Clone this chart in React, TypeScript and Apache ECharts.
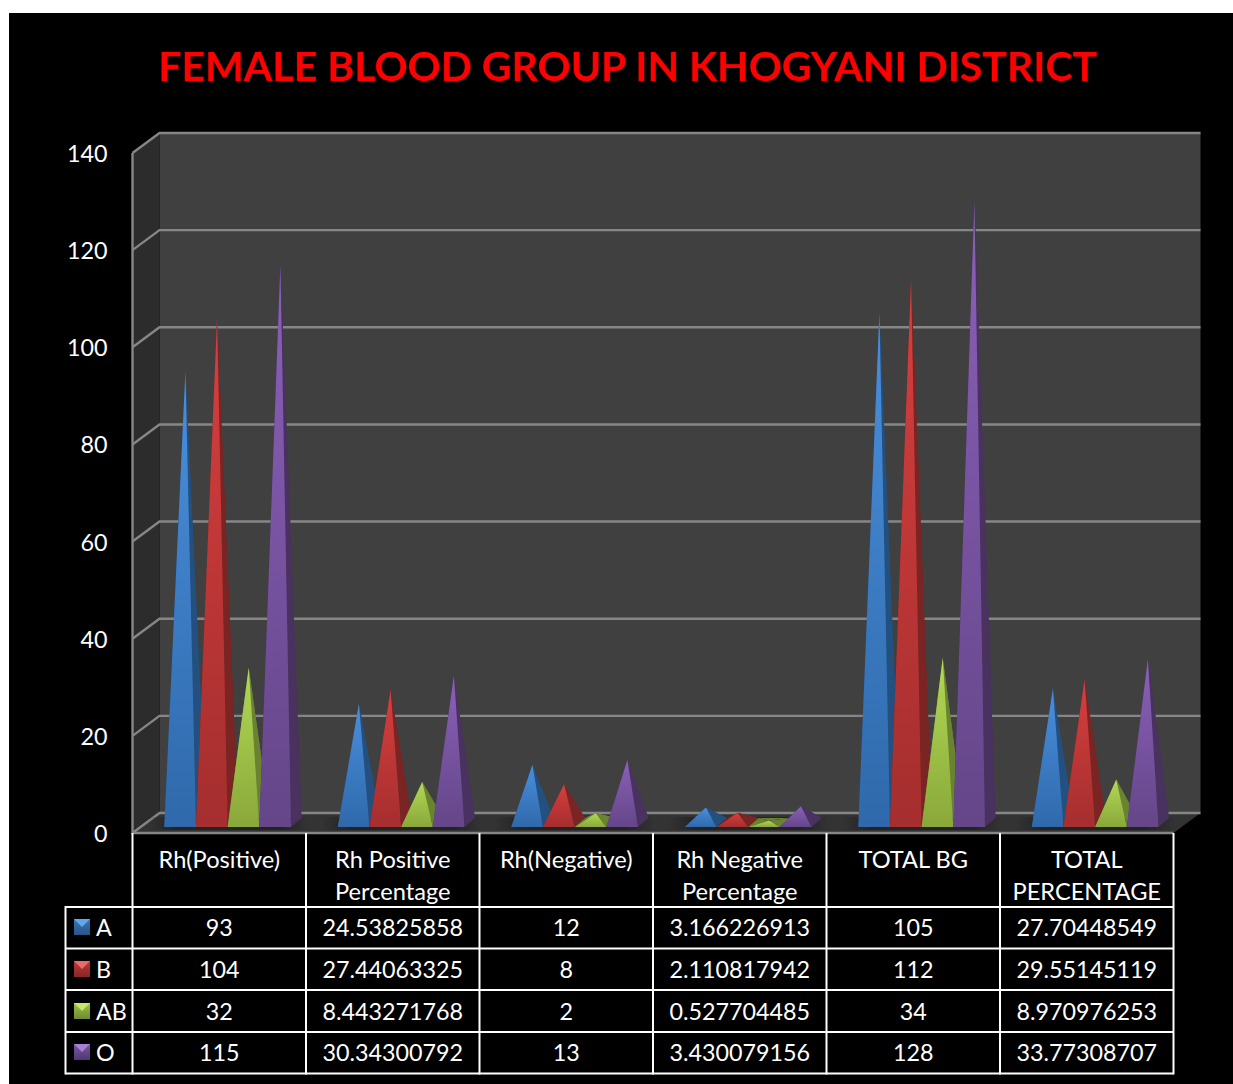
import React, { useEffect, useRef } from "react";
import * as echarts from "echarts";

const titleText = "FEMALE BLOOD GROUP IN KHOGYANI DISTRICT";
const categories = ["Rh(Positive)", "Rh Positive\nPercentage", "Rh(Negative)", "Rh Negative\nPercentage", "TOTAL BG", "TOTAL\nPERCENTAGE"];
const groupNames = ["A", "B", "AB", "O"];
const valuesA = [93, 24.53825858, 12, 3.166226913, 105, 27.70448549];
const valuesB = [104, 27.44063325, 8, 2.110817942, 112, 29.55145119];
const valuesAB = [32, 8.443271768, 2, 0.527704485, 34, 8.970976253];
const valuesO = [115, 30.34300792, 13, 3.430079156, 128, 33.77308707];
const yTicks = [0, 20, 40, 60, 80, 100, 120, 140];

const groupValues = [valuesA, valuesB, valuesAB, valuesO];

const palette = [
  { top: "#4a8fdc", bottom: "#2f69ab", side: "#23507f", light: "#5fa8ee", mid: "#3a75b8", dark: "#2a5488" },
  { top: "#d63f3f", bottom: "#a52e2e", side: "#7a2424", light: "#ee6a6a", mid: "#bb3838", dark: "#862828" },
  { top: "#b2d955", bottom: "#8aa83a", side: "#6a8330", light: "#c6e56e", mid: "#9dc043", dark: "#6f8a32" },
  { top: "#8a60b8", bottom: "#654689", side: "#49325f", light: "#a680d2", mid: "#7557a2", dark: "#503872" },
];

const FONT = "Lato";
const FS = 23.3;
const HEAD_FS = 23.6;
const LEFT = 132.5;
const TOP = 153;
const W = 1041;
const H = 680;
const DX = 27;
const DY = -20;
const COLW = W / 6;
const ROW_LINES = [907, 948.5, 990, 1032, 1073.5];
const ROW_TEXT = [927, 969, 1011, 1052];
const TABLE_TOP = 833;
const TABLE_LEFT = 65.5;

const vGrad = (a: string, b: string) => ({
  type: "linear", x: 0, y: 0, x2: 0, y2: 1,
  colorStops: [{ offset: 0, color: a }, { offset: 1, color: b }],
});

function pyramidSeries(idx: number) {
  const c = palette[idx];
  return {
    type: "custom",
    name: groupNames[idx],
    z: 5,
    clip: false,
    encode: { x: 0, y: 1 },
    data: groupValues[idx].map((v, i) => [i, v]),
    renderItem: (_p: any, api: any) => {
      const cat = api.value(0);
      const val = api.value(1);
      const band = api.size([1, 0])[0];
      const w = band * 0.1825;
      const cx = api.coord([cat, 0])[0];
      const y0 = api.coord([cat, 0])[1];
      const yv = api.coord([cat, val])[1];
      const xl = cx + 8.4 + (idx - 2) * w;
      const yb = y0 - 6;
      const dx = 10.5;
      const dy = -9;
      const FL = [xl, yb];
      const FR = [xl + w, yb];
      const BR = [xl + w + dx, yb + dy];
      const BL = [xl + dx, yb + dy];
      const AP = [xl + w / 2 + dx / 2, yv - 10];
      const face = (pts: number[][], fill: any) => ({
        type: "polygon",
        shape: { points: pts },
        style: { fill, stroke: null },
      });
      return {
        type: "group",
        children: [
          face([BL, BR, AP], c.side),
          face([BL, FL, AP], c.side),
          face([FR, BR, AP], c.side),
          face([FL, FR, AP], vGrad(c.top, c.bottom)),
        ],
      };
    },
  };
}

const shadowSeries = {
  type: "custom",
  z: 3,
  silent: true,
  encode: { x: 0, y: 1 },
  data: categories.map((_, i) => [i, 0]),
  renderItem: (_p: any, api: any) => {
    const band = api.size([1, 0])[0];
    const c = api.coord([api.value(0), 0]);
    return {
      type: "rect",
      shape: { x: c[0] + 8.4 - band * 0.46, y: c[1] - 16, width: band * 0.92, height: 13 },
      style: {
        fill: {
          type: "linear", x: 0, y: 0, x2: 1, y2: 0,
          colorStops: [
            { offset: 0, color: "rgba(24,24,24,0)" },
            { offset: 0.18, color: "rgba(24,24,24,0.6)" },
            { offset: 0.82, color: "rgba(24,24,24,0.6)" },
            { offset: 1, color: "rgba(24,24,24,0)" },
          ],
        },
      },
    };
  },
};

const wallSeries = {
  type: "custom",
  z: 1,
  silent: true,
  data: [[0, 0]],
  encode: { x: 0, y: 1 },
  renderItem: (p: any) => {
    const { x, y, width, height } = p.coordSys;
    const b = y + height;
    const poly = (points: number[][], fill: string) => ({ type: "polygon", shape: { points }, style: { fill } });
    return {
      type: "group",
      children: [
        poly([[x + DX, y + DY], [x + width + DX, y + DY], [x + width + DX, b + DY], [x + DX, b + DY]], "#404040"),
        poly([[x, y], [x + DX, y + DY], [x + DX, b + DY], [x, b]], "#2c2c2c"),
        poly([[x, b], [x + DX, b + DY], [x + width + DX, b + DY], [x + width, b]], "#333333"),
      ],
    };
  },
};

const gridSeries = {
  type: "custom",
  z: 2,
  silent: true,
  data: yTicks.map((t) => [0, t]),
  encode: { x: 0, y: 1 },
  renderItem: (p: any, api: any) => {
    const { x, width } = p.coordSys;
    const yy = api.coord([0, api.value(1)])[1];
    return {
      type: "polyline",
      shape: { points: [[x, yy], [x + DX, yy + DY], [x + width + DX, yy + DY]] },
      style: { stroke: "#868686", lineWidth: 2.4, fill: null },
    };
  },
};

const frontAxisSeries = {
  type: "custom",
  z: 2,
  silent: true,
  data: [[0, 0]],
  encode: { x: 0, y: 1 },
  renderItem: (p: any) => {
    const { x, y, width, height } = p.coordSys;
    const b = y + height;
    return {
      type: "polyline",
      shape: { points: [[x, y], [x, b], [x + width, b]] },
      style: { stroke: "#868686", lineWidth: 2.4, fill: null },
    };
  },
};

function tableGraphics() {
  const els: any[] = [];
  const line = (x1: number, y1: number, x2: number, y2: number, stroke = "#ffffff") =>
    els.push({ type: "line", z: 20, shape: { x1, y1, x2, y2 }, style: { stroke, lineWidth: 2 } });
  const text = (t: string, x: number, y: number, align: string) =>
    els.push({
      type: "text", z: 21,
      style: {
        text: t, x, y, fill: "#ffffff", font: `${FS}px ${FONT}`,
        align, textAlign: align, verticalAlign: "middle", textVerticalAlign: "middle",
      },
    });
  for (let i = 0; i <= 6; i++) line(LEFT + i * COLW, TABLE_TOP, LEFT + i * COLW, ROW_LINES[4] + 1);
  ROW_LINES.forEach((y) => line(TABLE_LEFT, y, LEFT + W, y));
  line(TABLE_LEFT, ROW_LINES[0] - 1, TABLE_LEFT, ROW_LINES[4] + 1);
  groupNames.forEach((name, r) => {
    const ty = ROW_TEXT[r];
    const c = palette[r];
    const kx = 74, ky = ty - 8, ks = 16, mid = ks / 2;
    els.push({ type: "rect", z: 21, shape: { x: kx, y: ky, width: ks, height: ks }, style: { fill: vGrad(c.mid, c.dark) } });
    els.push({ type: "polygon", z: 22, shape: { points: [[kx, ky], [kx + ks, ky], [kx + mid, ky + mid]] }, style: { fill: c.light } });
    text(name, 96, ty - 0.5, "left");
    groupValues[r].forEach((v, i) => text(String(v), LEFT + (i + 0.5) * COLW, ty, "center"));
  });
  return els;
}

const option: any = {
  animation: false,
  backgroundColor: "#ffffff",
  title: {
    text: titleText,
    left: 622.5,
    top: 40,
    textAlign: "center",
    textStyle: { color: "#ff0000", fontFamily: FONT, fontWeight: "bold", fontSize: 41 },
  },
  grid: { left: LEFT, top: TOP, width: W, height: H, containLabel: false },
  xAxis: {
    type: "category",
    data: categories,
    axisLine: { show: false },
    axisTick: { show: false },
    splitLine: { show: false },
    axisLabel: {
      interval: 0, color: "#ffffff", fontFamily: FONT, fontSize: HEAD_FS, lineHeight: 32, margin: 10,
      verticalAlign: "top",
    },
  },
  yAxis: {
    type: "value",
    min: 0,
    max: 140,
    interval: 20,
    axisLine: { show: false },
    axisTick: { show: false },
    splitLine: { show: false },
    axisLabel: { color: "#ffffff", fontFamily: FONT, fontSize: FS, margin: 25, padding: [3, 0, 0, 0] },
  },
  graphic: {
    elements: [
      { type: "rect", z: -1, shape: { x: 9, y: 13, width: 1224, height: 1071 }, style: { fill: "#000000" } },
      ...tableGraphics(),
    ],
  },
  series: [wallSeries, gridSeries, frontAxisSeries, shadowSeries, ...groupNames.map((_, i) => pyramidSeries(i))],
};

export default function App() {
  const ref = useRef<HTMLDivElement>(null);
  useEffect(() => {
    const chart = echarts.init(ref.current!, undefined, { renderer: "svg" });
    chart.setOption(option);
    return () => chart.dispose();
  }, []);
  return <div ref={ref} style={{ position: "fixed", left: 0, top: 0, width: 1233, height: 1084 }} />;
}
